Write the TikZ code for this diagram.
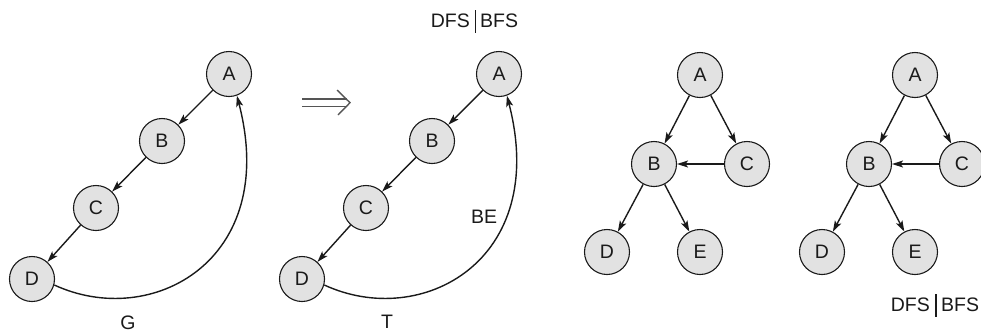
\documentclass[tikz,border=0pt]{standalone}
\usepackage{fontspec}
\setmainfont{Liberation Sans}
\usetikzlibrary{arrows.meta}
\definecolor{nodefill}{HTML}{E2E2E2}
\definecolor{ink}{HTML}{1A1A1A}
\definecolor{dblarrow}{HTML}{555555}
\tikzset{
  vtx/.style={circle, draw=ink, line width=1.1pt, fill=nodefill, minimum size=45pt, inner sep=0pt, text=ink, font=\fontsize{19.5}{22}\selectfont},
  lbl/.style={text=ink, font=\fontsize{19.5}{22}\selectfont, inner sep=0pt},
  edge/.style={draw=ink, line width=1.4pt, -{Stealth[length=11pt,width=7pt,inset=2.5pt]}},
  bar/.style={draw=ink, line width=1.8pt},
  dbl/.style={draw=dblarrow, line width=1.4pt}
}
\begin{document}
\begin{tikzpicture}[x=1pt,y=-1pt]
\useasboundingbox (0,0) rectangle (981,333);
% Graph G
\node[vtx] (gA) at (229,74) {A};
\node[vtx] (gB) at (162,141) {B};
\node[vtx] (gC) at (96,208) {C};
\node[vtx] (gD) at (32,279) {D};
\draw[edge] (gA) -- (gB);
\draw[edge] (gB) -- (gC);
\draw[edge] (gC) -- (gD);
\draw[edge] (gD.-15) .. controls +(97,45) and +(43,165) .. (gA.-70);
\node[lbl] (gG) at (128,323) {G};
% double arrow
\coordinate (r1) at (302,99);
\coordinate (r2) at (347,99);
\coordinate (r3) at (302,106.5);
\coordinate (r4) at (347,106.5);
\draw[dbl] (r1) -- (r2);
\draw[dbl] (r3) -- (r4);
\draw[dbl, line join=miter] (337,90) -- (350,102.7) -- (338,115);
% Graph T
\node[vtx] (tA) at (499,74) {A};
\node[vtx] (tB) at (432,141) {B};
\node[vtx] (tC) at (366,208) {C};
\node[vtx] (tD) at (302,279) {D};
\draw[edge] (tA) -- (tB);
\draw[edge] (tB) -- (tC);
\draw[edge] (tC) -- (tD);
\draw[edge] (tD.-15) .. controls +(97,45) and +(43,165) .. (tA.-70);
\node[lbl] (tT) at (387,322) {T};
\node[lbl] (tBE) at (484,217) {BE};
% top DFS|BFS
\node[lbl, anchor=east] (d1) at (470,21) {DFS};
\node[lbl, anchor=west] (b1) at (480,21) {BFS};
\draw[bar] (475.5,10) -- (475.5,33);
% left tree
\node[vtx] (lA) at (700,75) {A};
\node[vtx] (lB) at (654,164) {B};
\node[vtx] (lC) at (747,164) {C};
\node[vtx] (lD) at (607,252) {D};
\node[vtx] (lE) at (700,252) {E};
\draw[edge] (lA) -- (lB);
\draw[edge] (lA) -- (lC);
\draw[edge] (lC) -- (lB);
\draw[edge] (lB) -- (lD);
\draw[edge] (lB) -- (lE);
% right tree
\node[vtx] (rA) at (915,75) {A};
\node[vtx] (rB) at (869,164) {B};
\node[vtx] (rC) at (962,164) {C};
\node[vtx] (rD) at (822,252) {D};
\node[vtx] (rE) at (915,252) {E};
\draw[edge] (rA) -- (rB);
\draw[edge] (rA) -- (rC);
\draw[edge] (rC) -- (rB);
\draw[edge] (rB) -- (rD);
\draw[edge] (rB) -- (rE);
% bottom DFS|BFS
\node[lbl, anchor=east] (d2) at (930,305) {DFS};
\node[lbl, anchor=west] (b2) at (941,305) {BFS};
\draw[bar] (936,294) -- (936,317);
\end{tikzpicture}
\end{document}
